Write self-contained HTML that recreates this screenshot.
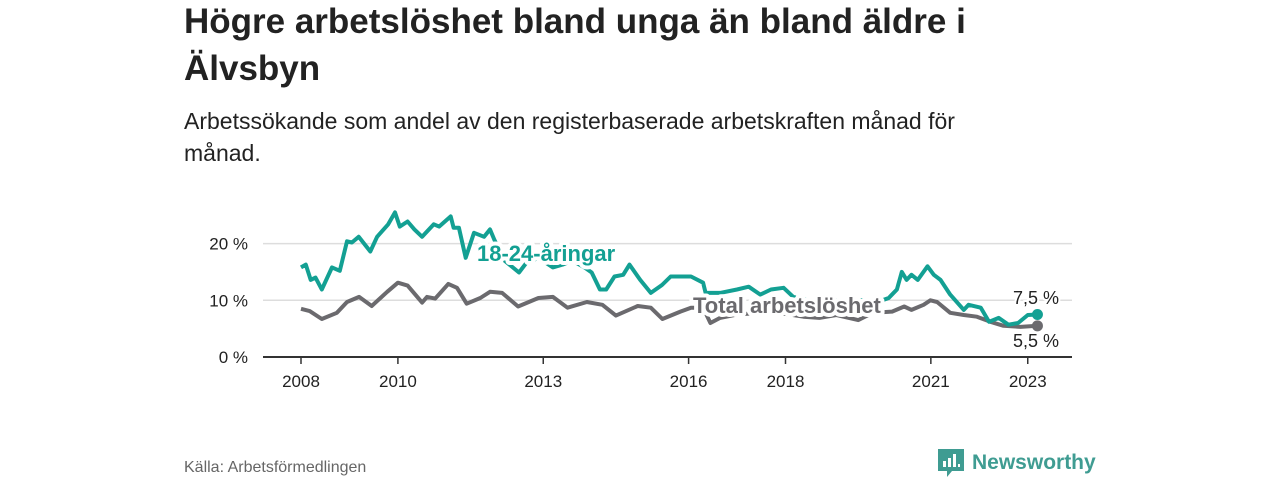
<!DOCTYPE html>
<html><head><meta charset="utf-8"><style>
body{margin:0;width:1280px;height:480px;background:#fff;font-family:"Liberation Sans","DejaVu Sans",sans-serif;overflow:hidden;position:relative}
h1{position:absolute;left:184px;top:-2px;margin:0;font-size:35px;line-height:47px;font-weight:bold;color:#222;width:830px}
.sub{position:absolute;left:184px;top:105px;font-size:23px;line-height:32px;color:#222;width:850px}
.src{position:absolute;left:184px;top:459px;font-size:16px;color:#666}
.logo{position:absolute;left:938px;top:449px;display:flex;align-items:center;gap:8px;color:#3f9c92;font-size:21px;font-weight:bold}
</style></head><body>
<h1>Högre arbetslöshet bland unga än bland äldre i Älvsbyn</h1>
<div class="sub">Arbetssökande som andel av den registerbaserade arbetskraften månad för månad.</div>
<svg id="chart" width="1280" height="480" style="position:absolute;left:0;top:0"></svg>
<div class="src">Källa: Arbetsförmedlingen</div>
<div class="logo"><svg width="26" height="28" viewBox="0 0 26 28"><path d="M0 0h26v22H14l-5 6v-6H0z" fill="#3f9c92"/><rect x="5" y="12" width="3" height="6" fill="#fff"/><rect x="10" y="9" width="3" height="9" fill="#fff"/><rect x="15" y="5" width="3" height="13" fill="#fff"/><rect x="20" y="15" width="2" height="3" fill="#fff"/></svg><span>Newsworthy</span></div>
<script>
const yTicks=[0,10,20];
const xTicks=[2008,2010,2013,2016,2018,2021,2023];
const youthT=[2008.0,2008.1,2008.2,2008.3,2008.43,2008.64,2008.8,2008.95,2009.05,2009.19,2009.43,2009.57,2009.8,2009.94,2010.04,2010.2,2010.34,2010.5,2010.74,2010.85,2011.09,2011.15,2011.26,2011.4,2011.57,2011.78,2011.9,2011.99,2012.2,2012.5,2012.65,2012.9,2013.2,2013.4,2013.6,2013.85,2014.0,2014.17,2014.3,2014.47,2014.65,2014.78,2015.0,2015.22,2015.45,2015.63,2016.05,2016.3,2016.35,2016.65,2017.0,2017.24,2017.48,2017.7,2017.96,2018.16,2018.5,2019.0,2019.5,2020.0,2020.13,2020.3,2020.4,2020.5,2020.6,2020.73,2020.93,2021.06,2021.2,2021.4,2021.68,2021.78,2022.03,2022.2,2022.4,2022.6,2022.8,2023.0,2023.2];
const youthV=[15.8,16.3,13.6,14,11.9,15.8,15.2,20.4,20.2,21.2,18.6,21.2,23.4,25.5,23,23.9,22.5,21.2,23.4,23,24.8,22.8,22.8,17.5,21.9,21.2,22.5,20.7,17,14.9,16.6,17.5,15.8,16.3,17,15.8,14.9,11.9,11.9,14.2,14.5,16.3,13.6,11.3,12.7,14.2,14.2,13.1,11.3,11.3,11.9,12.4,11,11.9,12.2,10.6,10,10,10,10,10.4,11.9,15,13.6,14.5,13.6,16,14.5,13.6,11,8.3,9.2,8.7,6.2,6.9,5.7,6,7.4,7.5];
const totalT=[2008.0,2008.18,2008.43,2008.74,2008.95,2009.2,2009.46,2009.78,2010.0,2010.2,2010.5,2010.6,2010.77,2011.04,2011.22,2011.42,2011.7,2011.9,2012.15,2012.48,2012.9,2013.2,2013.5,2013.9,2014.22,2014.5,2014.95,2015.22,2015.46,2015.83,2016.05,2016.3,2016.45,2016.65,2017.0,2017.5,2018.0,2018.37,2018.7,2019.05,2019.5,2019.8,2020.2,2020.45,2020.6,2020.85,2020.99,2021.13,2021.4,2021.68,2021.95,2022.23,2022.5,2022.85,2023.2];
const totalV=[8.5,8.1,6.7,7.8,9.7,10.6,9,11.5,13.1,12.6,9.6,10.6,10.3,12.9,12.2,9.4,10.4,11.5,11.3,8.9,10.4,10.6,8.7,9.7,9.2,7.3,9,8.7,6.7,8,8.7,8.7,6,6.9,7.5,7.8,7.6,7.1,6.9,7.4,6.5,7.8,8,8.9,8.3,9.2,10,9.7,7.8,7.4,7.1,6.2,5.5,5.3,5.5];
const NS="http://www.w3.org/2000/svg";
const svg=document.getElementById('chart');
const X0=263,X1=1072;
const xs=t=>301+(t-2008)*48.45;
const ys=v=>357-v*5.67;
function mk(tag,attrs){const e=document.createElementNS(NS,tag);for(const k in attrs)e.setAttribute(k,attrs[k]);svg.appendChild(e);return e;}
yTicks.forEach(v=>{
  if(v>0){const g=mk('line',{x1:X0,x2:X1,y1:ys(v),y2:ys(v),stroke:'#ddd','stroke-width':1.5});
  
  }
  const t=mk('text',{x:248,y:ys(v)+6,'text-anchor':'end','font-size':17,fill:'#222'});t.textContent=v+' %';
  
  
});
const ax=mk('line',{x1:X0,x2:X1,y1:357,y2:357,stroke:'#333','stroke-width':2});


xTicks.forEach(y=>{
  const l=mk('line',{x1:xs(y),x2:xs(y),y1:357,y2:364,stroke:'#333','stroke-width':1.5});
  
  
  const t=mk('text',{x:xs(y),y:387,'text-anchor':'middle','font-size':17,fill:'#222'});t.textContent=y;
  
  
});
function line(T,V,color,name){
  const d=T.map((t,i)=>(i?'L':'M')+xs(t).toFixed(1)+','+ys(V[i]).toFixed(1)).join('');
  const p=mk('path',{d:d,fill:'none',stroke:color,'stroke-width':4,'stroke-linejoin':'round'});
  
  
  const n=T.length-1;
  const c=mk('circle',{cx:xs(T[n]),cy:ys(V[n]),r:5.5,fill:color});
  
  
}
line(totalT,totalV,'#6b6a6e','total');
line(youthT,youthV,'#13a093','youth');
function lab(txt,x,y,color,name,bold,anchor){
  const t=mk('text',{x:x,y:y,'font-size':bold?22:18,'font-weight':bold?'bold':'normal',fill:color,stroke:'#fff','stroke-width':bold?8:4,'stroke-linejoin':'round','paint-order':'stroke','text-anchor':anchor||'start'});
  t.textContent=txt;
  
  
}
lab('18-24-åringar',477,261,'#13a093','youth-series-label',true);
lab('Total arbetslöshet',693,313,'#6b6a6e','total-series-label',true);
lab('7,5 %',1059,304,'#222','youth-end-value',false,'end');
lab('5,5 %',1059,347,'#222','total-end-value',false,'end');
</script>
</body></html>
